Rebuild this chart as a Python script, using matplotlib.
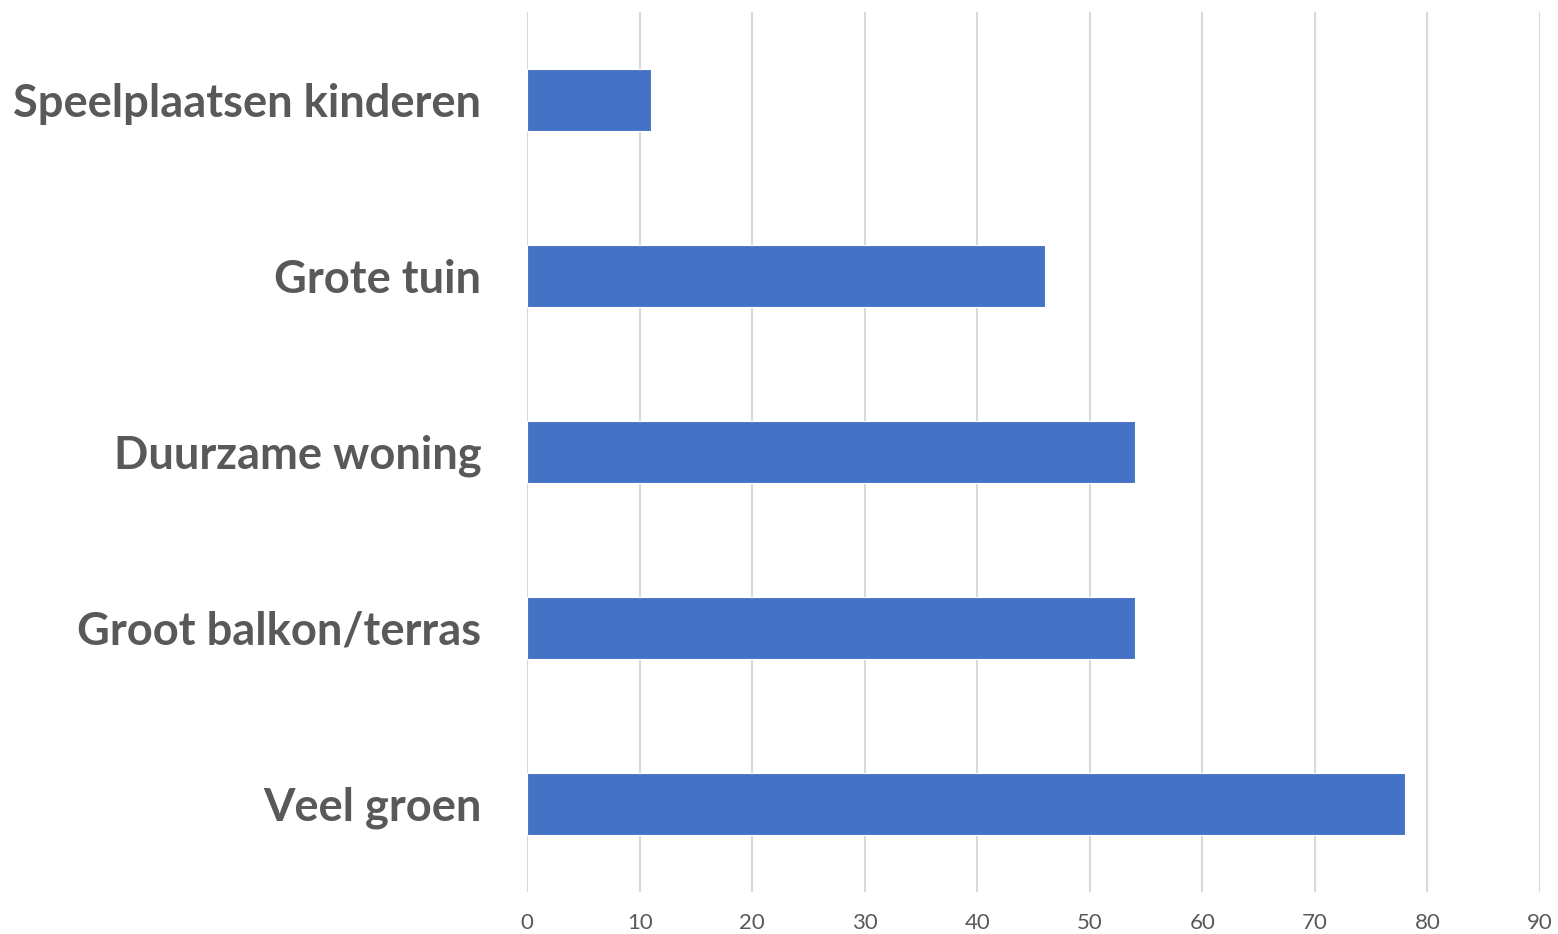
import matplotlib
matplotlib.use("Agg")
import matplotlib.pyplot as plt

categories = ["Veel groen", "Groot balkon/terras", "Duurzame woning", "Grote tuin", "Speelplaatsen kinderen"]
values = [78, 54, 54, 46, 11]
xticks = [0, 10, 20, 30, 40, 50, 60, 70, 80, 90]

fig = plt.figure(figsize=(15.58, 9.34), dpi=100)
ax = fig.add_axes([0.3383, 0.045, 0.6501, 0.9422])

ypos = list(range(len(categories)))
ax.barh(ypos, values, height=0.35, color="#4472C4", edgecolor="white", linewidth=0.8, zorder=3)

ax.set_xlim(0, 90)
ax.set_ylim(-0.5, len(categories) - 0.5)
ax.set_xticks(xticks)
ax.set_xticklabels([str(t) for t in xticks], fontsize=16, color="#595959", family="Lato")
ax.set_yticks(ypos)
ax.set_yticklabels(categories, fontsize=32.6, fontweight="bold", color="#595959", family="Lato")
ax.tick_params(axis="y", length=0, pad=33)
ax.tick_params(axis="x", length=0, pad=15)
ax.xaxis.grid(True, color="#D9D9D9", linewidth=1.5, zorder=0)
for s in ax.spines.values():
    s.set_visible(False)

fig.savefig("out.png", dpi=100, facecolor="white")
